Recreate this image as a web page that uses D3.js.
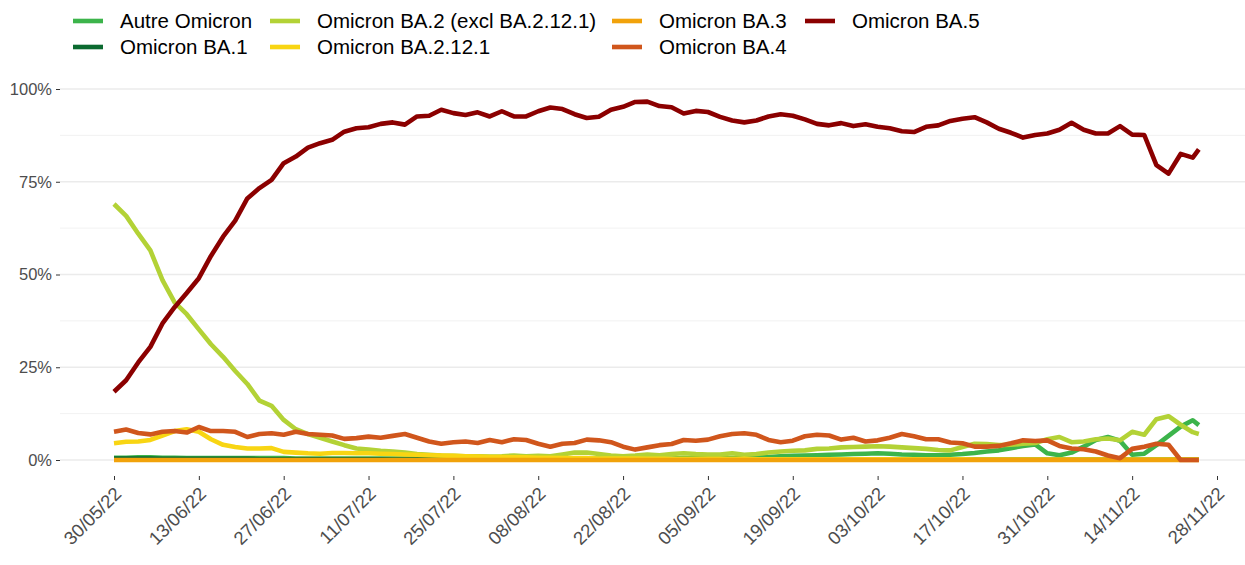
<!DOCTYPE html>
<html lang="fr">
<head>
<meta charset="utf-8">
<title>Omicron variants</title>
<script src="https://d3js.org/d3.v7.min.js"></script>
<style>
  body { margin: 0; background: #fff; font-family: 'Liberation Sans', Arial, sans-serif; }
</style>
</head>
<body>
<div id="chart"></div>
<script>
// days since 30/05/22 (one reading every 2 days, last day 179)
var dayOffset = [0,2,4,6,8,10,12,14,16,18,20,22,24,26,28,30,32,34,36,38,
  40,42,44,46,48,50,52,54,56,58,60,62,64,66,68,70,72,74,76,78,
  80,82,84,86,88,90,92,94,96,98,100,102,104,106,108,110,112,114,116,118,
  120,122,124,126,128,130,132,134,136,138,140,142,144,146,148,150,152,154,156,158,
  160,162,164,166,168,170,172,174,176,178,179];

var variants = ["Autre Omicron", "Omicron BA.1", "Omicron BA.2 (excl BA.2.12.1)",
  "Omicron BA.2.12.1", "Omicron BA.3", "Omicron BA.4", "Omicron BA.5"];
var colors = ["#3cb44b", "#0b6a30", "#b3d236", "#f8d513", "#f1a20b", "#d0561c", "#8b0000"];

// shares in %
var autre = [0.6,0.6,0.7,0.7,0.6,0.6,0.5,0.5,0.5,0.5,
  0.5,0.5,0.5,0.5,0.5,0.4,0.4,0.4,0.4,0.4,
  0.4,0.4,0.4,0.4,0.4,0.4,0.4,0.4,0.4,0.4,
  0.4,0.4,0.4,0.4,0.4,0.4,0.4,0.4,0.4,0.4,
  0.4,0.4,0.4,0.4,0.4,0.4,0.4,0.5,0.5,0.5,
  0.5,0.5,0.6,0.7,0.8,1.0,1.1,1.2,1.3,1.4,
  1.5,1.6,1.7,1.8,1.7,1.5,1.4,1.3,1.3,1.4,
  1.6,1.9,2.3,2.6,3.2,3.8,4.2,1.8,1.3,2.0,
  3.6,5.4,6.2,5.2,1.4,1.7,4.0,6.5,9.0,10.7,9.4];
var ba1 = [0.4,0.4,0.4,0.4,0.3,0.3,0.3,0.3,0.3,0.3,
  0.3,0.3,0.2,0.2,0.2,0.2,0.2,0.2,0.2,0.2,
  0.2,0.2,0.2,0.1,0.1,0.1,0.1,0.1,0.1,0.1,
  0.1,0.1,0.1,0.1,0.1,0.1,0.1,0.1,0.1,0.1,
  0.1,0.1,0.1,0.1,0.1,0.1,0.1,0.1,0.1,0.1,
  0.1,0.1,0.1,0.1,0.1,0.1,0.1,0.1,0.1,0.1,
  0.1,0.1,0.1,0.1,0.1,0.1,0.1,0.1,0.1,0.1,
  0.1,0.1,0.1,0.1,0.1,0.1,0.1,0.1,0.1,0.1,
  0.1,0.1,0.1,0.1,0.1,0.1,0.1,0.1,0.1,0.1,0.1];
var ba2 = [69.0,65.8,61.0,56.5,48.5,42.5,39.3,35.2,31.2,27.8,
  24.0,20.5,16.0,14.6,10.8,8.3,7.0,6.0,5.0,4.0,
  3.1,2.8,2.5,2.3,2.0,1.6,1.4,1.2,1.1,1.0,
  1.0,0.9,1.0,1.2,1.0,1.1,1.0,1.5,2.0,2.0,
  1.6,1.2,1.0,1.2,1.5,1.3,1.6,1.8,1.6,1.5,
  1.5,1.8,1.4,1.6,2.0,2.3,2.5,2.6,3.0,3.1,
  3.4,3.5,3.6,3.7,3.6,3.4,3.2,3.0,2.7,2.6,
  3.5,4.4,4.3,4.0,4.1,4.4,4.6,5.6,6.2,4.8,
  5.0,5.6,5.8,5.3,7.6,6.8,11.0,11.8,9.5,7.5,7.0];
var ba2121 = [4.5,4.9,5.0,5.4,6.6,7.8,8.3,7.6,5.6,4.1,
  3.5,3.1,3.1,3.2,2.2,2.0,1.8,1.7,1.9,1.9,
  1.8,1.8,1.7,1.6,1.5,1.4,1.3,1.2,1.1,1.0,
  0.9,0.8,0.8,0.7,0.7,0.6,0.6,0.5,0.5,0.5,
  0.4,0.4,0.4,0.4,0.3,0.3,0.3,0.3,0.3,0.3,
  0.3,0.3,0.3,0.2,0.2,0.2,0.2,0.2,0.2,0.2,
  0.2,0.2,0.2,0.2,0.2,0.2,0.2,0.2,0.2,0.2,
  0.2,0.1,0.1,0.1,0.1,0.1,0.1,0.1,0.1,0.1,
  0.1,0.1,0.1,0.1,0.1,0.1,0.1,0.1,0.1,0.1,0.1];
var ba3 = [0,0,0,0,0,0,0,0,0,0,
  0,0,0,0,0,0,0,0,0,0,
  0,0,0,0,0,0,0,0,0,0,
  0,0,0,0,0,0,0,0,0,0,
  0,0,0,0,0,0,0,0,0,0,
  0,0,0,0,0,0,0,0,0,0,
  0,0,0,0,0,0,0,0,0,0,
  0,0,0,0,0,0,0,0,0,0,
  0,0,0,0,0,0,0,0,0,0,0];
var ba4 = [7.6,8.2,7.3,6.9,7.6,7.8,7.4,8.9,7.8,7.8,
  7.6,6.2,7.0,7.2,6.8,7.6,7.0,6.8,6.6,5.7,
  5.9,6.3,6.0,6.5,7.0,6.0,5.0,4.4,4.8,5.0,
  4.6,5.4,4.8,5.6,5.4,4.4,3.6,4.4,4.6,5.5,
  5.3,4.8,3.6,2.8,3.4,4.0,4.3,5.4,5.2,5.5,
  6.4,7.0,7.2,6.8,5.4,4.8,5.2,6.4,6.8,6.6,
  5.5,6.0,5.0,5.3,6.0,7.0,6.4,5.6,5.6,4.7,
  4.5,3.6,3.6,3.8,4.5,5.3,5.1,5.3,3.8,3.1,
  2.9,2.3,1.2,0.5,3.0,3.6,4.4,4.1,0,0,0];
var ba5 = [18.4,21.5,26.3,30.5,36.8,41.2,45.0,49.0,55.0,60.2,
  64.5,70.5,73.3,75.5,80.0,81.8,84.2,85.4,86.3,88.5,
  89.4,89.7,90.6,91.0,90.4,92.6,92.8,94.4,93.5,93.0,
  93.7,92.6,94.0,92.6,92.6,94.0,95.0,94.6,93.2,92.2,
  92.5,94.4,95.2,96.5,96.6,95.4,95.1,93.4,94.1,93.8,
  92.5,91.5,91.0,91.5,92.6,93.2,92.8,91.8,90.6,90.2,
  90.8,90.0,90.5,89.8,89.4,88.6,88.4,89.8,90.2,91.4,
  92.0,92.4,91.0,89.3,88.2,86.9,87.6,88.0,89.0,90.9,
  89.0,88.0,88.0,90.0,87.7,87.6,79.5,77.2,82.5,81.5,83.7];

var seriesValues = [autre, ba1, ba2, ba2121, ba3, ba4, ba5];

var tickDates = ["30/05/22","13/06/22","27/06/22","11/07/22","25/07/22","08/08/22","22/08/22",
  "05/09/22","19/09/22","03/10/22","17/10/22","31/10/22","14/11/22","28/11/22"];
var yTicks = [0, 0.25, 0.5, 0.75, 1];
var yMinor = [0.125, 0.375, 0.625, 0.875];

var width = 1245, height = 565;
var parse = d3.utcParse("%d/%m/%y");
var startDate = parse("30/05/22");
var dates = dayOffset.map(function(d) { return d3.utcDay.offset(startDate, d); });

var x = d3.scaleUtc()
  .domain([parse("30/05/22"), parse("28/11/22")])
  .range([114, 1217]);
var y = d3.scaleLinear().domain([0, 1]).range([460, 89]);

var svg = d3.select("#chart").append("svg")
  .attr("width", width).attr("height", height);

var panelLeft = 60, panelRight = width;

// grid
svg.append("g").selectAll("line").data(yMinor).enter().append("line")
  .attr("x1", panelLeft).attr("x2", panelRight)
  .attr("y1", function(d) { return y(d); }).attr("y2", function(d) { return y(d); })
  .attr("stroke", "#ebebeb").attr("stroke-width", 0.7);
svg.append("g").selectAll("line").data(yTicks).enter().append("line")
  .attr("x1", panelLeft).attr("x2", panelRight)
  .attr("y1", function(d) { return y(d); }).attr("y2", function(d) { return y(d); })
  .attr("stroke", "#ebebeb").attr("stroke-width", 1.4);

// y axis
var yAxis = svg.append("g")
  .attr("transform", "translate(" + panelLeft + ",0)")
  .call(d3.axisLeft(y).tickValues(yTicks).tickSize(4).tickPadding(4)
    .tickFormat(function(d) { return Math.round(d * 100) + "%"; }));
yAxis.select(".domain").remove();
yAxis.selectAll(".tick line").attr("stroke", "#333").attr("stroke-width", 1);
yAxis.selectAll("text").attr("fill", "#4d4d4d")
  .style("font-size", "16.5px").style("font-family", "'Liberation Sans', Arial, sans-serif");

// x axis
var xAxis = svg.append("g")
  .attr("transform", "translate(0,476)")
  .call(d3.axisBottom(x).tickValues(tickDates.map(parse)).tickSize(4)
    .tickFormat(d3.utcFormat("%d/%m/%y")));
xAxis.select(".domain").remove();
xAxis.selectAll(".tick line").attr("stroke", "#333").attr("stroke-width", 1);
xAxis.selectAll("text")
  .attr("fill", "#4d4d4d")
  .style("font-size", "18.5px").style("font-family", "'Liberation Sans', Arial, sans-serif")
  .attr("text-anchor", "end")
  .attr("dy", null).attr("y", 0).attr("x", 0)
  .attr("transform", "translate(8,19) rotate(-45)");

// lines
var line = d3.line()
  .x(function(d, i) { return x(dates[i]); })
  .y(function(d) { return y(d / 100); });

svg.append("g").selectAll("path").data(seriesValues).enter().append("path")
  .attr("d", function(d) { return line(d); })
  .attr("fill", "none")
  .attr("stroke", function(d, i) { return colors[i]; })
  .attr("stroke-width", 4.6)
  .attr("stroke-linejoin", "round")
  .attr("stroke-linecap", "butt");

// legend (4 columns, 2 rows, filled by column)
var legKeyX = [73, 270, 612, 805];
var legRowY = [21, 47];
var legend = svg.append("g");
variants.forEach(function(name, i) {
  var col = Math.floor(i / 2), row = i % 2;
  legend.append("line")
    .attr("x1", legKeyX[col]).attr("x2", legKeyX[col] + 30)
    .attr("y1", legRowY[row]).attr("y2", legRowY[row])
    .attr("stroke", colors[i]).attr("stroke-width", 4.6);
  legend.append("text")
    .attr("x", legKeyX[col] + 47).attr("y", legRowY[row])
    .attr("dy", "0.36em")
    .style("font-size", "20.5px")
    .style("font-family", "'Liberation Sans', Arial, sans-serif")
    .attr("fill", "#000")
    .text(name);
});
</script>
</body>
</html>
